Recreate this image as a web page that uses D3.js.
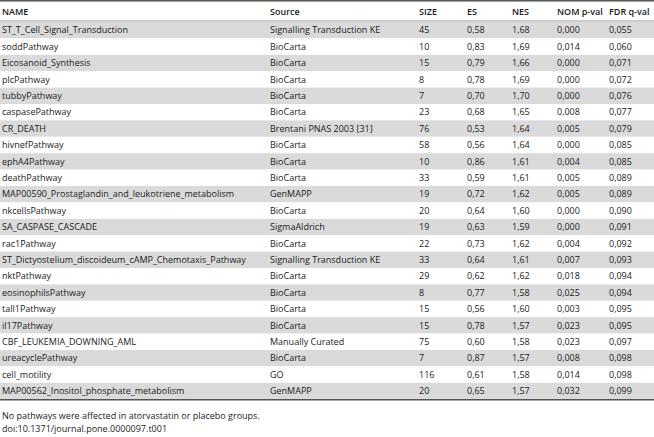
<!DOCTYPE html>
<html>
<head>
<meta charset="utf-8">
<script src="https://cdn.jsdelivr.net/npm/d3@7"></script>
<style>
  body { margin: 0; background: #fff; }
  text { font-family: "Open Sans", sans-serif; fill: #1a1a1a; }
</style>
</head>
<body>
<script>
var columns = ["NAME", "Source", "SIZE", "ES", "NES", "NOM p-val", "FDR q-val"];

var names = ["ST_T_Cell_Signal_Transduction", "soddPathway", "Eicosanoid_Synthesis", "plcPathway",
    "tubbyPathway", "caspasePathway", "CR_DEATH", "hivnefPathway", "ephA4Pathway", "deathPathway",
    "MAP00590_Prostaglandin_and_leukotriene_metabolism", "nkcellsPathway", "SA_CASPASE_CASCADE",
    "rac1Pathway", "ST_Dictyostelium_discoideum_cAMP_Chemotaxis_Pathway", "nktPathway",
    "eosinophilsPathway", "tall1Pathway", "il17Pathway", "CBF_LEUKEMIA_DOWNING_AML",
    "ureacyclePathway", "cell_motility", "MAP00562_Inositol_phosphate_metabolism"];

var sources = ["Signalling Transduction KE", "BioCarta", "BioCarta", "BioCarta", "BioCarta", "BioCarta",
    "Brentani PNAS 2003 [31]", "BioCarta", "BioCarta", "BioCarta", "GenMAPP", "BioCarta",
    "SigmaAldrich", "BioCarta", "Signalling Transduction KE", "BioCarta", "BioCarta", "BioCarta",
    "BioCarta", "Manually Curated", "BioCarta", "GO", "GenMAPP"];

var sizes = [45, 10, 15, 8, 7, 23, 76, 58, 10, 33, 19, 20, 19, 22, 33, 29, 8, 15, 15, 75, 7, 116, 20];

var es = ["0,58", "0,83", "0,79", "0,78", "0,70", "0,68", "0,53", "0,56", "0,86", "0,59", "0,72", "0,64",
    "0,63", "0,73", "0,64", "0,62", "0,77", "0,56", "0,78", "0,60", "0,87", "0,61", "0,65"];

var nes = ["1,68", "1,69", "1,66", "1,69", "1,70", "1,65", "1,64", "1,64", "1,61", "1,61", "1,62", "1,60",
    "1,59", "1,62", "1,61", "1,62", "1,58", "1,60", "1,57", "1,58", "1,57", "1,58", "1,57"];

var nomP = ["0,000", "0,014", "0,000", "0,000", "0,000", "0,008", "0,005", "0,000", "0,004", "0,005",
    "0,005", "0,000", "0,000", "0,004", "0,007", "0,018", "0,025", "0,003", "0,023", "0,023", "0,008",
    "0,014", "0,032"];

var fdrQ = ["0,055", "0,060", "0,071", "0,072", "0,076", "0,077", "0,079", "0,085", "0,085", "0,089",
    "0,089", "0,090", "0,091", "0,092", "0,093", "0,094", "0,094", "0,095", "0,095", "0,097", "0,098",
    "0,098", "0,099"];

var footnotes = ["No pathways were affected in atorvastatin or placebo groups.",
    "doi:10.1371/journal.pone.0000097.t001"];

var width = 654, height = 437;
var tableTop = 22, rowH = 16.4;
var fontSize = "9px";

var rows = names.map(function (d, i) {
    return [d, sources[i], sizes[i], es[i], nes[i], nomP[i], fdrQ[i]];
});

var svg = d3.select("body").append("svg")
    .attr("width", width)
    .attr("height", height);

var y = d3.scaleBand()
    .domain(d3.range(rows.length))
    .range([tableTop, tableTop + rowH * rows.length])
    .padding(0);

// left edge of each column
var x = d3.scaleOrdinal()
    .domain(columns)
    .range([2, 270, 419, 467, 512, 557, 609]);

// striped rows
svg.selectAll("rect.band")
    .data(rows)
    .enter().append("rect")
    .attr("class", "band")
    .attr("x", 0)
    .attr("width", width)
    .attr("y", function (d, i) { return y(i); })
    .attr("height", y.bandwidth())
    .style("fill", function (d, i) { return i % 2 === 0 ? "#dadada" : "#fff"; });

// header
svg.selectAll("text.head")
    .data(columns)
    .enter().append("text")
    .attr("class", "head")
    .attr("x", function (d) { return x(d); })
    .attr("y", 11.5)
    .attr("dy", "0.35em")
    .style("font-size", fontSize)
    .style("font-weight", 600)
    .text(function (d) { return d; });

// cells
var rowG = svg.selectAll("g.row")
    .data(rows)
    .enter().append("g")
    .attr("class", "row")
    .attr("transform", function (d, i) { return "translate(0," + (y(i) + y.bandwidth() / 2) + ")"; });

rowG.selectAll("text")
    .data(function (d) { return d; })
    .enter().append("text")
    .attr("x", function (d, j) { return x(columns[j]); })
    .attr("dy", "0.35em")
    .style("font-size", fontSize)
    .text(function (d) { return d; });

// rules
var tableBottom = y.range()[1];
svg.append("line").attr("x1", 0).attr("x2", width).attr("y1", 0.75).attr("y2", 0.75)
    .style("stroke", "#555").style("stroke-width", 1.5);
svg.append("line").attr("x1", 0).attr("x2", width).attr("y1", tableTop - 1).attr("y2", tableTop - 1)
    .style("stroke", "#999").style("stroke-width", 1.2);
svg.append("line").attr("x1", 0).attr("x2", width).attr("y1", tableBottom + 0.5).attr("y2", tableBottom + 0.5)
    .style("stroke", "#555").style("stroke-width", 1.5);

// footnotes
svg.selectAll("text.foot")
    .data(footnotes)
    .enter().append("text")
    .attr("class", "foot")
    .attr("x", 2)
    .attr("y", function (d, i) { return tableBottom + 17 + i * 12.5; })
    .attr("dy", "0.35em")
    .style("font-size", fontSize)
    .text(function (d) { return d; });
</script>
</body>
</html>
